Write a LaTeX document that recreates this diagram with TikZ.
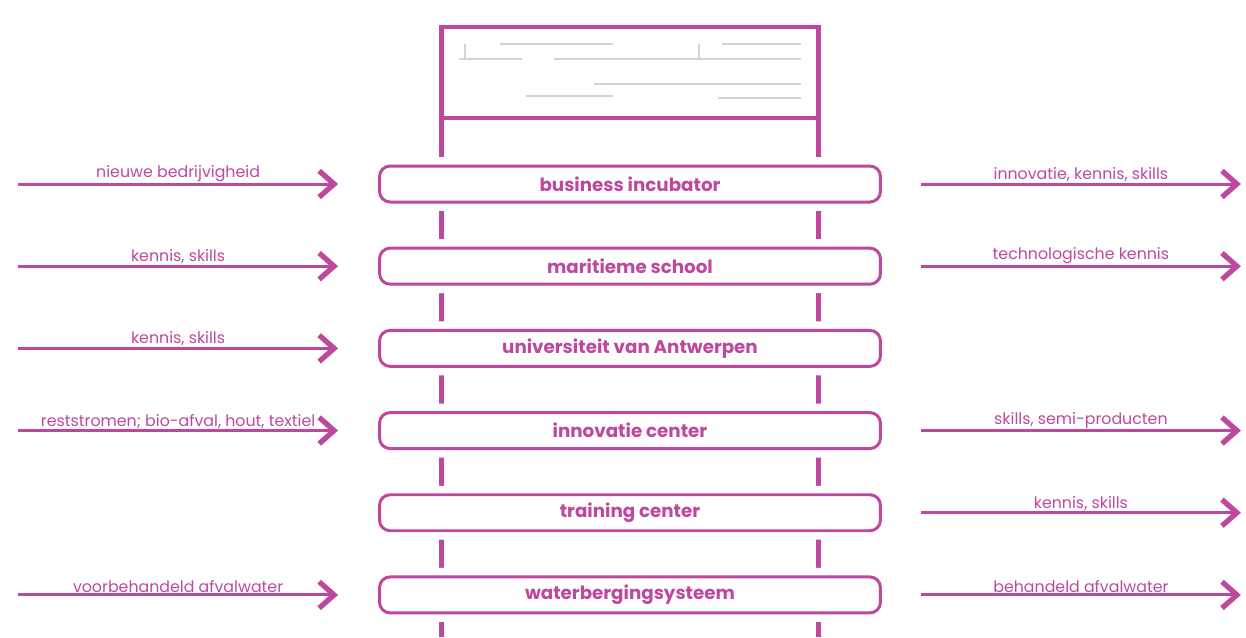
\documentclass[tikz,border=0pt]{standalone}
\usepackage{fontspec}
\setmainfont{Poppins}
\usetikzlibrary{arrows.meta, positioning}
\definecolor{orchid}{RGB}{190,72,158}
\definecolor{sketchgrey}{RGB}{210,211,214}

\begin{document}
\begin{tikzpicture}[%
    x = 0.02cm,
    y = -0.02cm,
    >= { Straight Barb[length=8.5pt, width=15pt, line width=3pt] },
    node distance = 1.644cm,
    on grid,
    every node/.style = {%
      text = orchid },
    unit/.style = {%
      draw = orchid,
      fill = white,
      line width = 1.7pt,
      rounded corners = 6pt,
      minimum width = 10.02cm,
      minimum height = 0.72cm,
      preaction = {draw = white, line width = 10.2pt},
      font = \bfseries\fontsize{10.4}{12}\selectfont },
    frame/.style = {%
      draw = orchid,
      line width = 2.8pt,
      outer sep = 0pt,
      minimum width = 7.54cm,
      minimum height = 1.82cm },
    flow/.style = {->, draw = orchid, line width = 1.7pt},
    tag/.style = {above, inner sep = 0.4pt, font = \fontsize{9}{11}\selectfont},
    rail/.style = {draw = orchid, line width = 2.8pt},
    sketch/.style = {draw = sketchgrey, line width = 0.9pt}
  ]

\useasboundingbox (0,0) rectangle (1246,637);

\node[frame] (hdr) at (630,72.5) {};

% grey scribble inside the header
\draw[sketch]
(465,44) -- (465,59) (459,59) -- (522,59)
(500,44) -- (613,44) (554,59) -- (801,59)
(699,44) -- (699,59) (722,44) -- (801,44)
(594,84) -- (801,84)
(526,96) -- (613,96) (718,98) -- (801,98);

% the two rails
\draw[rail] (hdr.south west) -- (hdr.south west |- 0,637);
\draw[rail] (hdr.south east) -- (hdr.south east |- 0,637);

\node[unit] (b1) at (630,184) {business incubator};
\node[unit] (b2) [below=of b1] {maritieme school};
\node[unit] (b3) [below=of b2] {universiteit van Antwerpen};
\node[unit] (b4) [below=of b3] {innovatie center};
\node[unit] (b5) [below=of b4] {training center};
\node[unit] (b6) [below=of b5] {waterbergingsysteem};

% free ends of the flows
\coordinate[left=7.2cm of b1.west] (in1);
\coordinate[left=7.2cm of b2.west] (in2);
\coordinate[left=7.2cm of b3.west] (in3);
\coordinate[left=7.2cm of b4.west] (in4);
\coordinate[left=7.2cm of b6.west] (in6);
\coordinate[right=7.18cm of b1.east] (out1);
\coordinate[right=7.18cm of b2.east] (out2);
\coordinate[right=7.18cm of b4.east] (out4);
\coordinate[right=7.18cm of b5.east] (out5);
\coordinate[right=7.18cm of b6.east] (out6);

\draw[flow] (in1) -- ([xshift=-0.8cm]b1.west) node[tag, midway] {nieuwe bedrijvigheid};
\draw[flow] (in2) -- ([xshift=-0.8cm]b2.west) node[tag, midway] {kennis, skills};
\draw[flow] (in3) -- ([xshift=-0.8cm]b3.west) node[tag, midway] {kennis, skills};
\draw[flow] (in4) -- ([xshift=-0.8cm]b4.west) node[tag, midway] {reststromen; bio-afval, hout, textiel};
\draw[flow] (in6) -- ([xshift=-0.8cm]b6.west) node[tag, midway] {voorbehandeld afvalwater};

\draw[flow] ([xshift=0.78cm]b1.east) -- (out1) node[tag, midway] {innovatie, kennis, skills};
\draw[flow] ([xshift=0.78cm]b2.east) -- (out2) node[tag, midway] {technologische kennis};
\draw[flow] ([xshift=0.78cm]b4.east) -- (out4) node[tag, midway] {skills, semi-producten};
\draw[flow] ([xshift=0.78cm]b5.east) -- (out5) node[tag, midway] {kennis, skills};
\draw[flow] ([xshift=0.78cm]b6.east) -- (out6) node[tag, midway] {behandeld afvalwater};

\end{tikzpicture}
\end{document}
